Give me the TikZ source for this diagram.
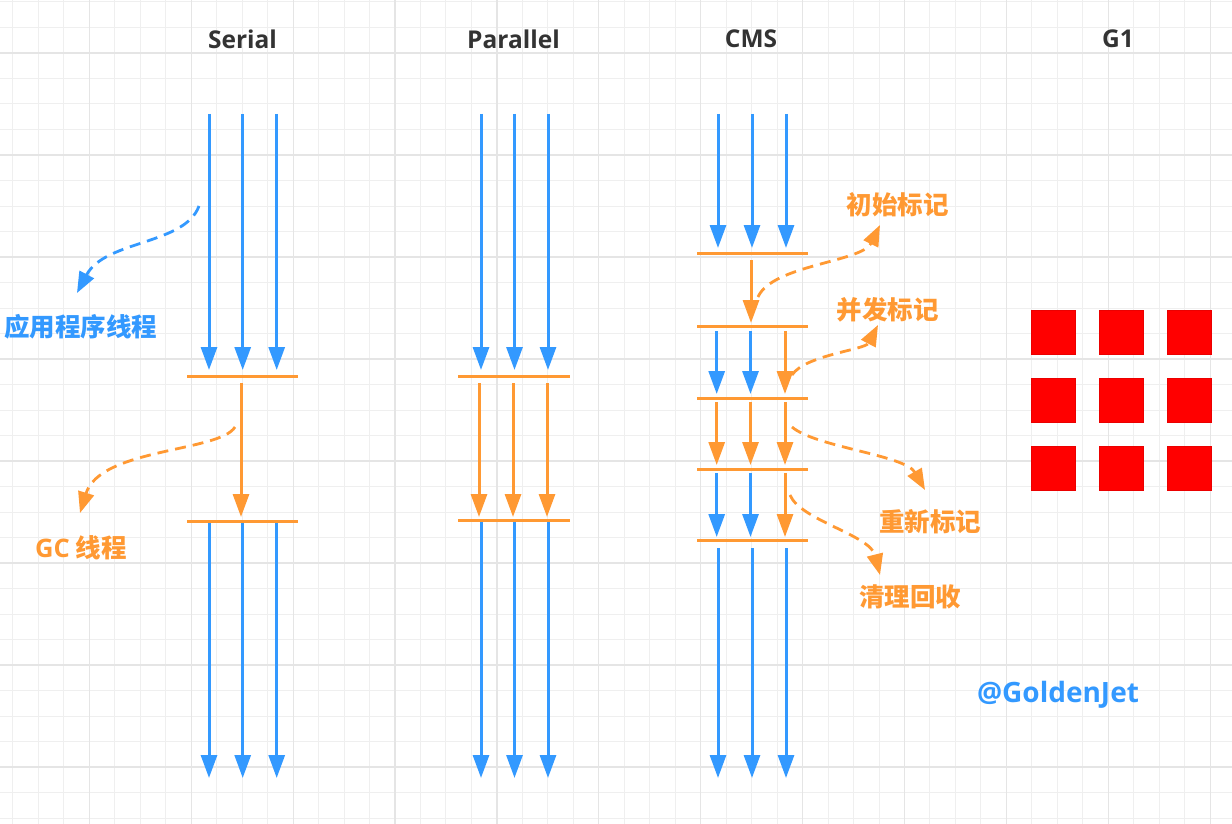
\documentclass[tikz,border=0pt]{standalone}
\usepackage{fontspec}
\setmainfont{Noto Sans CJK SC}
\newfontfamily\latin{Open Sans}
\usetikzlibrary{arrows.meta}
\definecolor{gblue}{HTML}{3399FF}
\definecolor{gorange}{HTML}{FF9933}
\definecolor{gtitle}{HTML}{333333}
\definecolor{gminor}{HTML}{EFEFEF}
\definecolor{gmajor}{HTML}{E5E5E5}
\definecolor{gred}{HTML}{FF0000}
\begin{document}
\begin{tikzpicture}[x=1pt,y=-1pt,
  tip/.style={-{Triangle[length=23pt,width=16pt]}},
  bluearr/.style={gblue, line width=3pt, tip},
  orarr/.style={gorange, line width=3pt, tip},
  barline/.style={gorange, line width=3pt},
  dashbase/.style={line width=2.8pt, dash pattern=on 11pt off 7pt, -{Triangle[length=21pt,width=16pt]}},
  dashblue/.style={dashbase, gblue},
  dashor/.style={dashbase, gorange},
  title/.style={font=\latin\bfseries\fontsize{24.5}{28}\selectfont, text=gtitle, inner sep=0pt},
  lblor/.style={font=\bfseries\fontsize{25.5}{29}\selectfont, text=gorange, inner sep=0pt},
  lblbl/.style={font=\bfseries\fontsize{25.5}{29}\selectfont, text=gblue, inner sep=0pt},
  sq/.style={fill=gred, draw=gred!92!black, line width=0.4pt},
]
\useasboundingbox (0,0) rectangle (1232,824);
\fill[white] (0,0) rectangle (1232,824);
% grid
\foreach \k in {-3,...,45} {
  \draw[gminor, line width=1pt] ({89.3+\k*25.475},0) -- ({89.3+\k*25.475},824);
}
\foreach \k in {-2,...,31} {
  \draw[gminor, line width=1pt] (0,{53+\k*25.5}) -- (1232,{53+\k*25.5});
}
\foreach \k in {0,...,11} {
  \draw[gmajor, line width=1.2pt] ({89.3+\k*101.9},0) -- ({89.3+\k*101.9},824);
}
\foreach \k in {0,...,7} {
  \draw[gmajor, line width=1.2pt] (0,{53+\k*102}) -- (1232,{53+\k*102});
}

% titles
\node[title] (tserial) at (242.5,39) {Serial};
\node[title] (tpar) at (513.5,39) {Parallel};
\node[title] (tcms) at (751,39) {CMS};
\node[title] (tg1) at (1118,39) {G1};

% ---------- Serial ----------
\foreach \x in {209,242.7,276.7} {
  \draw[bluearr] (\x,114) -- (\x,370);
  \draw[bluearr] (\x,522) -- (\x,778);
}
\draw[barline] (187,376) -- (298,376);
\draw[orarr] (241,383) -- (241,517);
\draw[barline] (187,521) -- (298,521);

\coordinate (sbs) at (199,206);
\coordinate (sbe) at (77,293);
\draw[dashblue] (sbs) .. controls (185,245) and (105,240) .. (sbe);
\node[lblbl] (lapp) at (81,327) {应用程序线程};

\coordinate (sos) at (235,427);
\coordinate (soe) at (80,513);
\draw[dashor] (sos) .. controls (220,452) and (100,448) .. (soe);
\node[lblor] (lgc) at (81,548) {{\latin GC} 线程};

% ---------- Parallel ----------
\foreach \x in {481,514.5,548} {
  \draw[bluearr] (\x,114) -- (\x,370);
  \draw[bluearr] (\x,522) -- (\x,778);
}
\draw[barline] (458,376) -- (570,376);
\foreach \x in {479,513,547} {
  \draw[orarr] (\x,383) -- (\x,517);
}
\draw[barline] (458,520) -- (570,520);

% ---------- CMS ----------
\foreach \x in {718,752,786} {
  \draw[bluearr] (\x,114) -- (\x,248);
  \draw[bluearr] (\x,548) -- (\x,778);
}
\draw[barline] (697,253.3) -- (808,253.3);
\draw[orarr] (751,260) -- (751,323);
\draw[barline] (697,326.7) -- (808,326.7);
\draw[bluearr] (716.7,331) -- (716.7,394);
\draw[bluearr] (750.5,331) -- (750.5,394);
\draw[orarr] (785,331) -- (785,394);
\draw[barline] (697,398.3) -- (808,398.3);
\foreach \x in {716.7,750.5,785} {
  \draw[orarr] (\x,402) -- (\x,465);
}
\draw[barline] (697,469.3) -- (808,469.3);
\draw[bluearr] (716.7,473) -- (716.7,537);
\draw[bluearr] (750.5,473) -- (750.5,537);
\draw[orarr] (785,473) -- (785,537);
\draw[barline] (697,540.7) -- (808,540.7);

\coordinate (c1s) at (758,297);
\coordinate (c1e) at (880,225);
\draw[dashor] (c1s) .. controls (772,265) and (862,262) .. (c1e);
\node[lblor] (linit) at (897.5,205) {初始标记};

\coordinate (c2s) at (792,375);
\coordinate (c2e) at (878,325);
\draw[dashor] (c2s) .. controls (805,355) and (865,350) .. (c2e);
\node[lblor] (lconc) at (887.5,310) {并发标记};

\coordinate (c3s) at (792,427);
\coordinate (c3e) at (925,490);
\draw[dashor] (c3s) .. controls (815,447) and (905,455) .. (c3e);
\node[lblor] (lremark) at (930,522) {重新标记};

\coordinate (c4s) at (790,495);
\coordinate (c4e) at (880,575);
\draw[dashor] (c4s) .. controls (800,520) and (870,535) .. (c4e);
\node[lblor] (lclean) at (910,597) {清理回收};

% ---------- G1 ----------
\foreach \i/\xx in {0/1031,1/1099,2/1167} {
  \foreach \j/\yy in {0/310,1/378,2/446} {
    \fill[sq] (\xx,\yy) rectangle ++(44,44);
  }
}

\node[font=\latin\bfseries\fontsize{28}{32}\selectfont, text=gblue, inner sep=0pt] (sig) at (1058,695) {@GoldenJet};
\end{tikzpicture}
\end{document}
